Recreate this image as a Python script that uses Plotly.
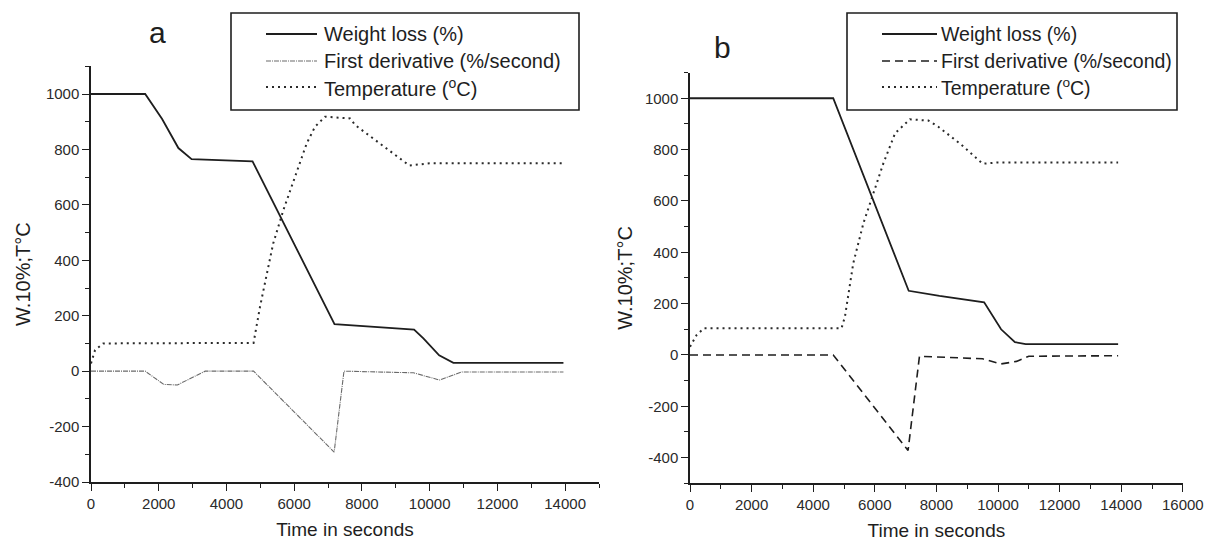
import plotly.graph_objects as go

W, H = 1227, 545

# ---------------- Data ----------------
# Panel a
a_wt_t = [0, 1600, 2100, 2580, 2970, 4150, 4770, 7190, 9540, 9815, 10280, 10700, 13950]
a_wt_v = [1000, 1000, 910, 805, 765, 758, 757, 170, 150, 118, 57, 30, 30]

a_der_t = [0, 1600, 2150, 2550, 3370, 4800, 7180, 7470, 9520, 10290, 10950, 13950]
a_der_v = [0, 0, -48, -50, 0, 0, -292, 0, -6, -32, -3, -3]

a_tmp_t = [0, 120, 360, 4800, 4990, 5380, 5680, 6025, 6370, 6615, 6910, 7650, 7800, 9400, 10000, 13950]
a_tmp_v = [28, 76, 100, 102, 232, 461, 581, 701, 822, 882, 918, 912, 888, 742, 750, 750]

# Panel b
b_wt_t = [0, 4650, 7100, 8100, 9550, 10100, 10550, 10900, 13900]
b_wt_v = [1000, 1000, 250, 230, 205, 100, 50, 42, 42]

b_der_t = [0, 4650, 7080, 7450, 9500, 10100, 10600, 11000, 13900]
b_der_v = [0, 0, -372, -5, -15, -35, -25, -5, -3]

b_tmp_t = [0, 217, 455, 4920, 5030, 5300, 5630, 5950, 6280, 6660, 7140, 7740, 8060, 8800, 9500, 10000, 13900]
b_tmp_v = [32, 78, 104, 104, 149, 357, 513, 630, 747, 864, 918, 913, 889, 820, 745, 750, 750]

# Tick labels
a_xticks = [0, 2000, 4000, 6000, 8000, 10000, 12000, 14000]
b_xticks = [0, 2000, 4000, 6000, 8000, 10000, 12000, 14000, 16000]
a_yticks = [-400, -200, 0, 200, 400, 600, 800, 1000]
b_yticks = [-400, -200, 0, 200, 400, 600, 800, 1000]

legend_labels = ["Weight loss (%)", "First derivative (%/second)", "Temperature (<sup>o</sup>C)"]
panel_labels = ["a", "b"]
x_title = "Time in seconds"
y_title = "W.10%;T°C"

# ---------------- Styles ----------------
INK = "#1e1e1e"
TICK_INK = "#2a2a2a"
FONT = "Liberation Sans, Arial, sans-serif"
wt_line = dict(color=INK, width=1.8)
der_a_line = dict(color="#6a6a6a", width=1.1, dash="5px,1px,1px,1px")
der_b_line = dict(color=INK, width=1.6, dash="8px,5px")
tmp_line = dict(color="#2a2a2a", width=2, dash="2px,4px")


def px(x):
    return x / W


def py(y):
    return 1 - y / H


def labels(vals):
    return [str(v) for v in vals]


fig = go.Figure()

fig.add_trace(go.Scatter(x=a_wt_t, y=a_wt_v, mode="lines", line=wt_line, xaxis="x", yaxis="y", showlegend=False, name=legend_labels[0]))
fig.add_trace(go.Scatter(x=a_der_t, y=a_der_v, mode="lines", line=der_a_line, xaxis="x", yaxis="y", showlegend=False, name=legend_labels[1]))
fig.add_trace(go.Scatter(x=a_tmp_t, y=a_tmp_v, mode="lines", line=tmp_line, xaxis="x", yaxis="y", showlegend=False, name=legend_labels[2]))

fig.add_trace(go.Scatter(x=b_wt_t, y=b_wt_v, mode="lines", line=wt_line, xaxis="x2", yaxis="y2", showlegend=False, name=legend_labels[0]))
fig.add_trace(go.Scatter(x=b_der_t, y=b_der_v, mode="lines", line=der_b_line, xaxis="x2", yaxis="y2", showlegend=False, name=legend_labels[1]))
fig.add_trace(go.Scatter(x=b_tmp_t, y=b_tmp_v, mode="lines", line=tmp_line, xaxis="x2", yaxis="y2", showlegend=False, name=legend_labels[2]))

axis_common = dict(
    showline=True, linecolor=INK, linewidth=1.5, showgrid=False, zeroline=False,
    ticks="outside", ticklen=7, tickwidth=1.3, tickcolor=INK,
    tickfont=dict(family=FONT, size=15, color=TICK_INK),
    automargin=False,
)
x_title_d = dict(text=x_title, font=dict(size=19, family=FONT, color=INK), standoff=12)

fig.update_layout(
    width=W, height=H,
    margin=dict(l=0, r=0, t=0, b=0),
    paper_bgcolor="white", plot_bgcolor="white",
    font=dict(family=FONT, color=INK),
    xaxis=dict(domain=[px(91), px(599)], range=[0, 15000], anchor="y",
               tickmode="array", tickvals=a_xticks, ticktext=labels(a_xticks),
               minor=dict(dtick=1000, ticks="outside", ticklen=4, tickcolor=INK),
               title=x_title_d, **axis_common),
    yaxis=dict(domain=[py(482), py(66.3)], range=[-400, 1100], anchor="x",
               tickmode="array", tickvals=a_yticks, ticktext=labels(a_yticks),
               minor=dict(dtick=100, ticks="outside", ticklen=4, tickcolor=INK),
               title=dict(text=y_title, font=dict(size=20, family=FONT, color=INK), standoff=10),
               **axis_common),
    xaxis2=dict(domain=[px(690), px(1182.8)], range=[0, 16000], anchor="y2",
                tickmode="array", tickvals=b_xticks, ticktext=labels(b_xticks),
                minor=dict(dtick=1000, ticks="outside", ticklen=4, tickcolor=INK),
                title=x_title_d, **axis_common),
    yaxis2=dict(domain=[py(483.3), py(72.6)], range=[-500, 1100], anchor="x2",
                tickmode="array", tickvals=b_yticks, ticktext=labels(b_yticks),
                minor=dict(dtick=100, ticks="outside", ticklen=4, tickcolor=INK),
                title=dict(text=y_title, font=dict(size=20, family=FONT, color=INK), standoff=7),
                **axis_common),
)

# ---------------- Legend boxes (drawn) ----------------
legend_specs = [
    dict(box=(231, 13, 579, 110), line_x=(266, 317), text_x=322, size=20, styles=[wt_line, der_a_line, tmp_line]),
    dict(box=(847, 13, 1177, 110), line_x=(882, 937), text_x=939, size=19.5, styles=[wt_line, der_b_line, tmp_line]),
]
row_y = [34, 61, 87]
shapes = []
annotations = []
for spec in legend_specs:
    x0, y0, x1, y1 = spec["box"]
    shapes.append(dict(type="rect", xref="paper", yref="paper", x0=px(x0), x1=px(x1), y0=py(y1), y1=py(y0),
                       line=dict(color=INK, width=1.6), fillcolor="white", layer="above"))
    for ry, st, lab in zip(row_y, spec["styles"], legend_labels):
        shapes.append(dict(type="line", xref="paper", yref="paper", x0=px(spec["line_x"][0]), x1=px(spec["line_x"][1]),
                           y0=py(ry), y1=py(ry), line=st, layer="above"))
        annotations.append(dict(xref="paper", yref="paper", x=px(spec["text_x"]), y=py(ry), text=lab,
                                showarrow=False, xanchor="left", yanchor="middle",
                                font=dict(family=FONT, size=spec["size"], color=INK)))

annotations.append(dict(xref="paper", yref="paper", x=px(157), y=py(33), text=panel_labels[0], showarrow=False,
                        xanchor="center", yanchor="middle", font=dict(family=FONT, size=30, color=INK)))
annotations.append(dict(xref="paper", yref="paper", x=px(722), y=py(47), text=panel_labels[1], showarrow=False,
                        xanchor="center", yanchor="middle", font=dict(family=FONT, size=30, color=INK)))

fig.update_layout(shapes=shapes, annotations=annotations)

fig.write_html("out.html", config={"displayModeBar": False},
               post_script="document.body.style.margin='0';document.body.style.padding='0';")
